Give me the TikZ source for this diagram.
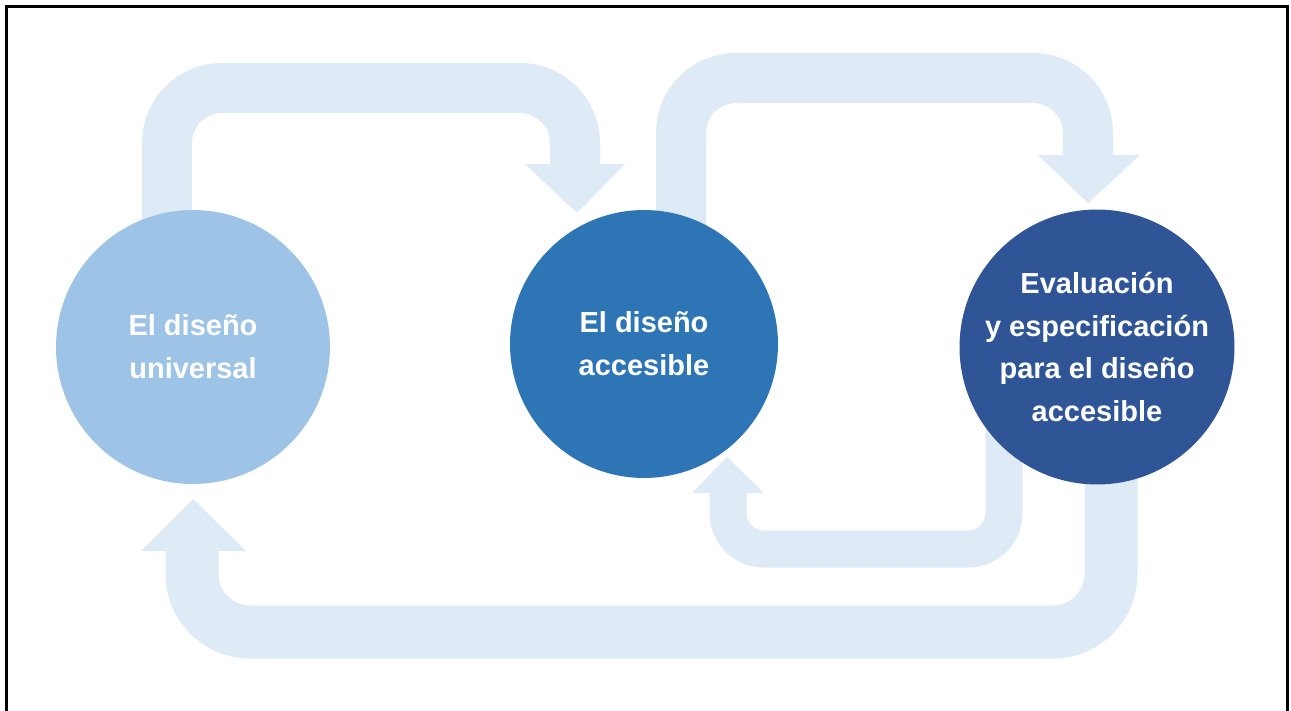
\documentclass[tikz,border=0pt]{standalone}
\usepackage{fontspec}
\setmainfont{Liberation Sans}
\usetikzlibrary{backgrounds}

\definecolor{bandblue}{HTML}{DEEAF6}
\definecolor{univblue}{HTML}{9DC3E6}
\definecolor{accblue}{HTML}{2E75B6}
\definecolor{evalblue}{HTML}{2F5597}

\begin{document}
\begin{tikzpicture}[x=0.02cm,y=-0.02cm,
    stage/.style={circle,inner sep=0pt,text=white,align=center,
        font=\bfseries\fontsize{16.5}{24.4}\selectfont},
    stagetext/.style={inner sep=0pt,text=white,align=center,
        font=\bfseries\fontsize{16.5}{24.4}\selectfont},
    band/.style={draw=bandblue,line width=1cm,rounded corners=1.1cm},
    head/.style={fill=bandblue}]
                \useasboundingbox (0,0) rectangle (1291,710);
                \draw[line width=3*0.02cm] (6,720) -- (6,6) -- (1287,6) -- (1287,720);

                \node[stage,fill=univblue,minimum size=5.48cm] (uni) at (193,347) {El diseño\\universal};
                \node[stage,fill=accblue,minimum size=5.36cm] (acc) at (644,344) {El diseño\\accesible};
                \node[stage,fill=evalblue,minimum size=5.5cm] (eva) at (1097,347) {};
                \node[stagetext] (evatext) at (eva.center)
                    {Evaluación\\y especificación\\para el diseño\\accesible};

                \begin{scope}[on background layer]
                % universal -> accesible
                \draw[band] (uni.center) ++(-26,0) |- (575,88) -- (575,165);
                \fill[head] (525,164) -- (625,164) -- (577,213) -- cycle;

                % accesible -> evaluacion
                \draw[band] (acc.center) ++(37,0) |- (1088,78) -- (1088,156);
                \fill[head] (1038,155) -- (1140,155) -- (1088,203) -- cycle;

                % evaluacion -> accesible
                \draw[band,line width=37*0.02cm,rounded corners=36*0.02cm]
                    (eva.center) ++(-93,50) |- (728,549) -- (728,492);
                \fill[head] (692,493) -- (764,493) -- (727,457) -- cycle;

                % evaluacion -> universal
                \draw[band,line width=53*0.02cm,rounded corners=58*0.02cm]
                    (eva.center) ++(14,50) |- (192,632) -- (192,550);
                \fill[head] (141,551) -- (246,551) -- (193,499) -- cycle;
                \end{scope}
            \end{tikzpicture}
\end{document}
